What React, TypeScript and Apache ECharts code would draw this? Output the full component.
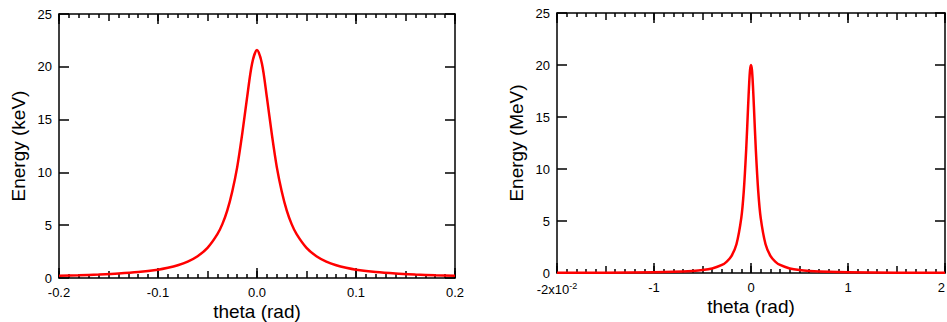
import React, { useEffect, useRef } from "react";
import * as echarts from "echarts";

const leftTheta = [-0.2, -0.18, -0.16, -0.14, -0.12, -0.1, -0.09, -0.08, -0.07, -0.06, -0.05, -0.04, -0.035, -0.03, -0.025, -0.02, -0.015, -0.01, -0.005, 0, 0.005, 0.01, 0.015, 0.02, 0.025, 0.03, 0.035, 0.04, 0.05, 0.06, 0.07, 0.08, 0.09, 0.1, 0.12, 0.14, 0.16, 0.18, 0.2];
const leftEnergy = [0.21, 0.26, 0.33, 0.42, 0.56, 0.79, 0.97, 1.21, 1.55, 2.06, 2.85, 4.15, 5.1, 6.4, 8.2, 10.5, 13.6, 17.1, 20.3, 21.6, 20.3, 17.1, 13.6, 10.5, 8.2, 6.4, 5.1, 4.15, 2.85, 2.06, 1.55, 1.21, 0.97, 0.79, 0.56, 0.42, 0.33, 0.26, 0.21];

const rightTheta = [-2, -1.5, -1, -0.8, -0.6, -0.5, -0.4, -0.3, -0.25, -0.2, -0.15, -0.1, -0.075, -0.05, -0.03, -0.02, -0.01, 0, 0.01, 0.02, 0.03, 0.05, 0.075, 0.1, 0.15, 0.2, 0.25, 0.3, 0.4, 0.5, 0.6, 0.8, 1, 1.5, 2];
const rightEnergy = [0.02, 0.03, 0.07, 0.11, 0.2, 0.28, 0.44, 0.77, 1.1, 1.65, 2.76, 5.3, 7.8, 11.8, 16, 18, 19.5, 20, 19.5, 18, 16, 11.8, 7.8, 5.3, 2.76, 1.65, 1.1, 0.77, 0.44, 0.28, 0.2, 0.11, 0.07, 0.03, 0.02];

const leftXTicks = { min: -0.2, max: 0.2, major: 0.1, medium: 0.05 };
const rightXTicks = { min: -2, max: 2, major: 1, medium: 0.5 };
const yTicks = { min: 0, max: 25, interval: 5 };

const FONT = "'Liberation Sans', Arial, Helvetica, sans-serif";
const BLACK = "#000";

function xAxes(gridIndex: number, t: { min: number; max: number; major: number; medium: number }, labelFmt: any, labelRich: any, alignMax: any) {
  const base = { type: "value", gridIndex, min: t.min, max: t.max, splitLine: { show: false } };
  const line = { show: true, onZero: false, lineStyle: { color: BLACK, width: 1.5 } };
  return [
    {
      ...base,
      position: "bottom",
      interval: t.major,
      axisLine: line,
      axisTick: { show: true, inside: true, length: 10, lineStyle: { color: BLACK, width: 1.5 } },
      axisLabel: { show: true, color: BLACK, fontSize: 13, fontFamily: FONT, margin: 8, formatter: labelFmt, rich: labelRich, alignMaxLabel: alignMax },
      name: "theta (rad)",
      nameLocation: "middle",
      nameGap: 24,
      nameMoveOverlap: false,
      nameTextStyle: { color: BLACK, fontSize: 19, fontFamily: FONT, lineHeight: 19 },
    },
    {
      ...base,
      position: "bottom",
      interval: t.medium,
      axisLine: { show: false, onZero: false },
      axisTick: { show: true, inside: true, length: 7, lineStyle: { color: BLACK, width: 1.5 } },
      minorTick: { show: true, splitNumber: 5, length: 4, lineStyle: { color: BLACK, width: 1.5 } },
      axisLabel: { show: false },
    },
    {
      ...base,
      position: "top",
      interval: t.major,
      axisLine: line,
      axisTick: { show: true, inside: true, length: 10, lineStyle: { color: BLACK, width: 1.5 } },
      axisLabel: { show: false },
    },
    {
      ...base,
      position: "top",
      interval: t.medium,
      axisLine: { show: false, onZero: false },
      axisTick: { show: true, inside: true, length: 7, lineStyle: { color: BLACK, width: 1.5 } },
      minorTick: { show: true, splitNumber: 5, length: 4, lineStyle: { color: BLACK, width: 1.5 } },
      axisLabel: { show: false },
    },
  ];
}

function yAxes(gridIndex: number, name: string) {
  const base = { type: "value", gridIndex, min: yTicks.min, max: yTicks.max, interval: yTicks.interval, splitLine: { show: false } };
  const line = { show: true, onZero: false, lineStyle: { color: BLACK, width: 1.5 } };
  const tick = { show: true, inside: true, length: 10, lineStyle: { color: BLACK, width: 1.5 } };
  return [
    {
      ...base,
      position: "left",
      axisLine: line,
      axisTick: tick,
      axisLabel: { show: true, color: BLACK, fontSize: 13, fontFamily: FONT, margin: 7 },
      name,
      nameLocation: "middle",
      nameGap: 31,
      nameMoveOverlap: false,
      nameRotate: 90,
      nameTextStyle: { color: BLACK, fontSize: 19, fontFamily: FONT },
    },
    {
      ...base,
      position: "right",
      axisLine: line,
      axisTick: tick,
      axisLabel: { show: false },
    },
  ];
}

export default function App() {
  const ref = useRef<HTMLDivElement>(null);
  useEffect(() => {
    document.body.style.margin = "0";
    if (!ref.current) return;
    const chart = echarts.init(ref.current, null, { renderer: "svg" });
    const leftFmt = (v: number) => v.toFixed(1);
    const rightFmt = (v: number) => (v === -2 ? "{a|-2x10}{s|-2}" : "{a|" + String(Math.round(v)) + "}");
    const rightRich = {
      a: { fontSize: 13, fontFamily: FONT, color: BLACK },
      s: { fontSize: 9, fontFamily: FONT, color: BLACK, padding: [0, 0, 8, 0] },
    };
    chart.setOption({
      animation: false,
      backgroundColor: "#fff",
      grid: [
        { left: 59, top: 14, width: 396, height: 264, outerBoundsMode: "none", containLabel: false },
        { left: 557, top: 13, width: 388, height: 260, outerBoundsMode: "none", containLabel: false },
      ],
      xAxis: [...xAxes(0, leftXTicks, leftFmt, undefined, undefined), ...xAxes(1, rightXTicks, rightFmt, rightRich, "right")],
      yAxis: [...yAxes(0, "Energy (keV)"), ...yAxes(1, "Energy (MeV)")],
      series: [
        {
          type: "line",
          xAxisIndex: 0,
          yAxisIndex: 0,
          data: leftTheta.map((t, i) => [t, leftEnergy[i]]),
          smooth: 0.3,
          symbol: "none",
          lineStyle: { color: "#ff0000", width: 2.5 },
          z: 5,
        },
        {
          type: "line",
          xAxisIndex: 4,
          yAxisIndex: 2,
          data: rightTheta.map((t, i) => [t, rightEnergy[i]]),
          smooth: 0.3,
          symbol: "none",
          lineStyle: { color: "#ff0000", width: 2.5 },
          z: 5,
        },
      ],
    });
    return () => chart.dispose();
  }, []);
  return <div ref={ref} style={{ width: 947, height: 322 }} />;
}
